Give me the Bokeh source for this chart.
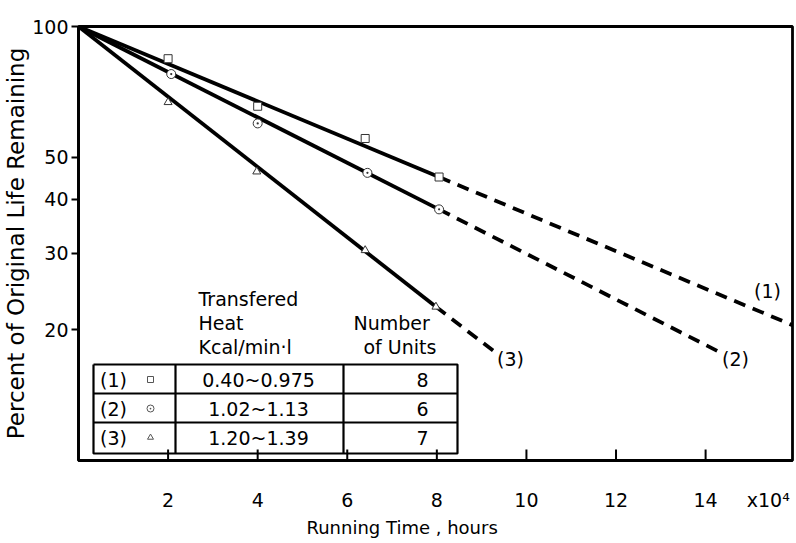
from bokeh.plotting import figure
from bokeh.models import Range1d, FixedTicker, Label, NumeralTickFormatter, Title
from bokeh.embed import file_html
from bokeh.resources import INLINE

# ---------------- data (running time in 10^4 hours, % life remaining) -------------
x_1 = [2.0, 4.0, 6.4, 8.05]
life_1 = [84.3, 65.5, 55.2, 45.0]
x_2 = [2.07, 4.0, 6.45, 8.05]
life_2 = [77.7, 59.8, 46.0, 37.9]
x_3 = [2.0, 3.98, 6.4, 7.98]
life_3 = [66.9, 46.3, 30.5, 22.6]

# fitted lines: solid part and extrapolated (dashed) part
fit_solid_x_1 = [0.0, 8.05]
fit_solid_y_1 = [100.0, 45.0]
fit_dash_x_1 = [8.05, 15.94]
fit_dash_y_1 = [45.0, 20.5]

fit_solid_x_2 = [0.0, 8.05]
fit_solid_y_2 = [100.0, 37.9]
fit_dash_x_2 = [8.05, 14.3]
fit_dash_y_2 = [37.9, 17.8]

fit_solid_x_3 = [0.0, 7.98]
fit_solid_y_3 = [100.0, 22.6]
fit_dash_x_3 = [7.98, 9.26]
fit_dash_y_3 = [22.6, 17.9]

x_ticks = [2, 4, 6, 8, 10, 12, 14]
x_multiplier_pos = 15.4
x_multiplier_text = "x10\u2074"
y_ticks = [20, 30, 40, 50, 100]

series_ids = ["(1)", "(2)", "(3)"]
heat_ranges = ["0.40~0.975", "1.02~1.13", "1.20~1.39"]
unit_counts = ["8", "6", "7"]

FONT = "DejaVu Sans"

# ---------------- figure ----------------
X_MAX = 15.94
Y_MIN, Y_MAX = 10, 100
p = figure(width=796, height=543, frame_width=714, frame_height=434,
           x_range=Range1d(0, X_MAX), y_range=Range1d(Y_MIN, Y_MAX), y_axis_type="log",
           output_backend="svg", toolbar_location=None,
           min_border_left=78, min_border_right=4, min_border_top=26, min_border_bottom=83)
p.background_fill_color = "white"
p.border_fill_color = "white"
p.xgrid.visible = False
p.ygrid.visible = False
p.outline_line_color = "black"
p.outline_line_width = 2.8

p.xaxis.ticker = FixedTicker(ticks=x_ticks + [x_multiplier_pos])
p.xaxis.major_label_overrides = {x_multiplier_pos: x_multiplier_text}
p.yaxis.ticker = FixedTicker(ticks=y_ticks)
p.yaxis.formatter = NumeralTickFormatter(format="0")
for ax in (p.xaxis, p.yaxis):
    ax.axis_line_width = 2.8
    ax.axis_line_color = "black"
    ax.major_tick_line_width = 2
    ax.major_tick_line_color = "black"
    ax.minor_tick_line_color = None
    ax.major_label_text_font = FONT
    ax.major_label_text_font_size = "19px"
    ax.major_label_text_color = "black"
# x tick marks are drawn inside the frame below (so the multiplier gets no tick)
p.xaxis.major_tick_in = 0
p.xaxis.major_tick_out = 0
p.xaxis.major_label_standoff = 28
p.yaxis.major_tick_in = 0
p.yaxis.major_tick_out = 7
p.yaxis.major_label_standoff = 3

p.yaxis.axis_label = "Percent of Original Life Remaining"
p.yaxis.axis_label_text_font = FONT
p.yaxis.axis_label_text_font_size = "23px"
p.yaxis.axis_label_text_font_style = "normal"
p.yaxis.axis_label_text_color = "black"
p.yaxis.axis_label_standoff = 0

# x axis title, placed left of centre as in the original
p.add_layout(Title(text="Running Time , hours", align="left", offset=228,
                   text_font=FONT, text_font_size="18px", text_font_style="normal",
                   text_color="black", standoff=2), "below")

# pixel -> data helpers for annotation layout
def dx(px):
    return (px - 78) / (714 / X_MAX)

def dy(py):
    return 10 ** (2 - (py - 26) / 434)

# inward x tick marks
p.segment(x0=x_ticks, y0=[Y_MIN] * len(x_ticks), x1=x_ticks, y1=[dy(449)] * len(x_ticks),
          line_color="black", line_width=2)

# ---------------- lines ----------------
LW = 3.8
for sx, sy, ex, ey in [(fit_solid_x_1, fit_solid_y_1, fit_dash_x_1, fit_dash_y_1),
                       (fit_solid_x_2, fit_solid_y_2, fit_dash_x_2, fit_dash_y_2),
                       (fit_solid_x_3, fit_solid_y_3, fit_dash_x_3, fit_dash_y_3)]:
    p.line(sx, sy, line_color="black", line_width=LW)
    p.line(ex, ey, line_color="black", line_width=LW, line_dash="12 8")

# ---------------- markers ----------------
MS = 8
p.scatter(x_1, life_1, marker="square", size=MS, fill_color="white", line_color="#333333", line_width=1)
p.scatter(x_2, life_2, marker="circle_dot", size=MS + 1, fill_color="white", line_color="#333333", line_width=1)
p.scatter(x_3, life_3, marker="triangle", size=MS, fill_color="white", line_color="#333333", line_width=1)

# ---------------- curve labels ----------------
for txt, px, py in [("(1)", 767, 290), ("(2)", 735, 358), ("(3)", 510, 358)]:
    p.add_layout(Label(x=dx(px), y=dy(py), text=txt, text_font=FONT, text_font_size="19px",
                       text_align="center", text_baseline="middle", text_color="black"))

# ---------------- table ----------------
T_L, T_R, T_T, T_B = 93, 457, 364, 453
row_lines = [393, 422]
col_lines = [175, 343]
hx = [dx(T_L), dx(T_R), dx(T_R), dx(T_L), dx(T_L)]
hy = [dy(T_T), dy(T_T), dy(T_B), dy(T_B), dy(T_T)]
p.line(hx, hy, line_color="black", line_width=2.2)
for r in row_lines:
    p.line([dx(T_L), dx(T_R)], [dy(r), dy(r)], line_color="black", line_width=2.2)
for c in col_lines:
    p.line([dx(c), dx(c)], [dy(T_T), dy(T_B)], line_color="black", line_width=2.2)

row_centers = [379, 408, 437]
p.text([dx(113)] * 3, [dy(r) for r in row_centers], text=series_ids, text_font={"value": FONT},
       text_font_size="19px", text_align="center", text_baseline="middle", text_color="black")
p.text([dx(258)] * 3, [dy(r) for r in row_centers], text=heat_ranges, text_font={"value": FONT},
       text_font_size="19px", text_align="center", text_baseline="middle", text_color="black")
p.text([dx(422)] * 3, [dy(r) for r in row_centers], text=unit_counts, text_font={"value": FONT},
       text_font_size="19px", text_align="center", text_baseline="middle", text_color="black")
p.scatter([dx(150)], [dy(row_centers[0])], marker="square", size=6, fill_color="white", line_color="#555555")
p.scatter([dx(150)], [dy(row_centers[1])], marker="circle_dot", size=7, fill_color="white", line_color="#555555")
p.scatter([dx(150)], [dy(row_centers[2])], marker="triangle", size=6, fill_color="white", line_color="#555555")

for txt, px, py in [("Transfered", 198, 298), ("Heat", 198, 322), ("Kcal/min\u00b7l", 198, 346),
                    ("Number", 353, 322), ("of Units", 363, 346)]:
    p.add_layout(Label(x=dx(px), y=dy(py), text=txt, text_font=FONT, text_font_size="19px",
                       text_align="left", text_baseline="middle", text_color="black"))

open("out.html", "w").write(file_html(p, INLINE))
